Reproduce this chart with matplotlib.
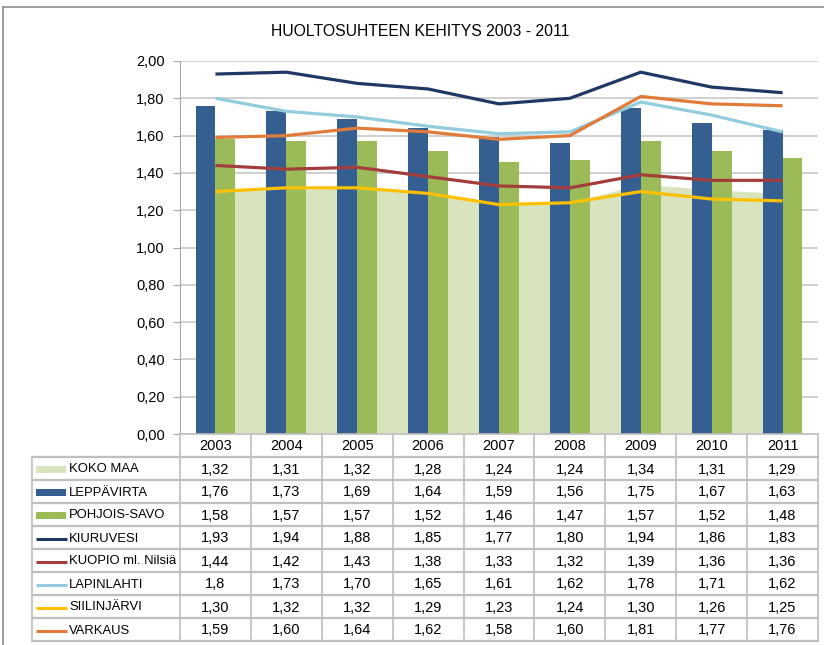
import matplotlib
matplotlib.use("Agg")
import matplotlib.pyplot as plt
import numpy as np
from matplotlib.transforms import blended_transform_factory

plt.rcParams['font.family'] = ['Liberation Sans Narrow', 'Liberation Sans', 'DejaVu Sans']

years = ['2003', '2004', '2005', '2006', '2007', '2008', '2009', '2010', '2011']
koko_maa = [1.32, 1.31, 1.32, 1.28, 1.24, 1.24, 1.34, 1.31, 1.29]
leppavirta = [1.76, 1.73, 1.69, 1.64, 1.59, 1.56, 1.75, 1.67, 1.63]
pohjois_savo = [1.58, 1.57, 1.57, 1.52, 1.46, 1.47, 1.57, 1.52, 1.48]
kiuruvesi = [1.93, 1.94, 1.88, 1.85, 1.77, 1.80, 1.94, 1.86, 1.83]
kuopio = [1.44, 1.42, 1.43, 1.38, 1.33, 1.32, 1.39, 1.36, 1.36]
lapinlahti = [1.80, 1.73, 1.70, 1.65, 1.61, 1.62, 1.78, 1.71, 1.62]
siilinjarvi = [1.30, 1.32, 1.32, 1.29, 1.23, 1.24, 1.30, 1.26, 1.25]
varkaus = [1.59, 1.60, 1.64, 1.62, 1.58, 1.60, 1.81, 1.77, 1.76]

# the source table shows one value with a single decimal
text_override = {('LAPINLAHTI', 0): '1,8'}

# (name, values, kind, colour)
series = [
    ('KOKO MAA', koko_maa, 'area', '#d7e4bd'),
    ('LEPPÄVIRTA', leppavirta, 'bar', '#365f91'),
    ('POHJOIS-SAVO', pohjois_savo, 'bar', '#9bbb59'),
    ('KIURUVESI', kiuruvesi, 'line', '#203864'),
    ('KUOPIO ml. Nilsiä', kuopio, 'line', '#a33e3c'),
    ('LAPINLAHTI', lapinlahti, 'line', '#93cddd'),
    ('SIILINJÄRVI', siilinjarvi, 'line', '#ffc000'),
    ('VARKAUS', varkaus, 'line', '#e07b39'),
]

W, H = 824, 645
fig = plt.figure(figsize=(W / 100, H / 100), dpi=100)

# pixel positions of the plot area
left, right, top, bottom = 180, 818, 61, 434
ax = fig.add_axes([left / W, 1 - bottom / H, (right - left) / W, (bottom - top) / H])

x = np.arange(len(years))
bw = 0.28
for name, vals, kind, col in series:
    if kind == 'area':
        ax.fill_between(x, 0, vals, color=col, lw=0, zorder=1)
for name, vals, kind, col in series:
    if kind == 'bar':
        off = -bw / 2 if name == 'LEPPÄVIRTA' else bw / 2
        ax.bar(x + off, vals, width=bw, color=col, zorder=2)
for name, vals, kind, col in series:
    if kind == 'line':
        ax.plot(x, vals, color=col, lw=2.3, zorder=3, solid_capstyle='butt')

ax.set_xlim(-0.5, len(years) - 0.5)
ax.set_ylim(0, 2.0)
ax.set_yticks(np.arange(0, 2.01, 0.2))
ax.set_yticklabels([f'{v:.2f}'.replace('.', ',') for v in np.arange(0, 2.01, 0.2)], fontsize=10.5)
ax.set_xticks([])
ax.yaxis.grid(True, color='#c8c8c8', lw=1.2)
ax.set_axisbelow(True)
for s in ['top', 'right', 'bottom']:
    ax.spines[s].set_visible(False)
ax.spines['left'].set_color('#a6a6a6')
ax.tick_params(axis='y', length=5, color='#a6a6a6', pad=6)

# overlay in pixel coordinates for frame, title and data table
ov = fig.add_axes([0, 0, 1, 1], zorder=5)
ov.set_xlim(0, W)
ov.set_ylim(H, 0)
ov.axis('off')
ov.patch.set_visible(False)

ov.plot([3, W + 5], [7, 7], color='#8c8c8c', lw=1.2)
ov.plot([3.5, 3.5], [7, H + 5], color='#8c8c8c', lw=1.2)
ov.text(420, 31, 'HUOLTOSUHTEEN KEHITYS 2003 - 2011', ha='center', va='center', fontsize=11.3)

tr = blended_transform_factory(ax.transData, ov.transData)
grid_col = '#bfbfbf'
row_h = 23
head_bot = bottom + row_h
tab_bot = head_bot + row_h * len(series)
lab_left = 32

# vertical lines of the table
for i in range(len(years) + 1):
    ov.plot([i - 0.5, i - 0.5], [bottom, tab_bot], color=grid_col, lw=1.2, transform=tr)
ov.plot([lab_left, lab_left], [head_bot, tab_bot], color=grid_col, lw=1.2)
# horizontal lines
ov.plot([left, right], [bottom, bottom], color=grid_col, lw=1.2)
for r in range(len(series) + 1):
    y = head_bot + r * row_h
    ov.plot([lab_left, right], [y, y], color=grid_col, lw=1.6)

for i, yr in enumerate(years):
    ov.text(i, bottom + row_h / 2 + 1, yr, ha='center', va='center', fontsize=10.5, transform=tr)

for r, (name, vals, kind, col) in enumerate(series):
    yc = head_bot + r * row_h + row_h / 2 + 1
    if kind in ('area', 'bar'):
        ov.add_patch(plt.Rectangle((36, yc - 4), 30, 7, color=col, lw=0))
    else:
        ov.plot([36, 67], [yc, yc], color=col, lw=2.2, solid_capstyle='butt')
    ov.text(69, yc, name, ha='left', va='center', fontsize=9.4)
    for i, v in enumerate(vals):
        txt = text_override.get((name, i), f'{v:.2f}'.replace('.', ','))
        ov.text(i, yc, txt, ha='center', va='center', fontsize=10.5, transform=tr)

fig.savefig('out.png', dpi=100, facecolor='white')
